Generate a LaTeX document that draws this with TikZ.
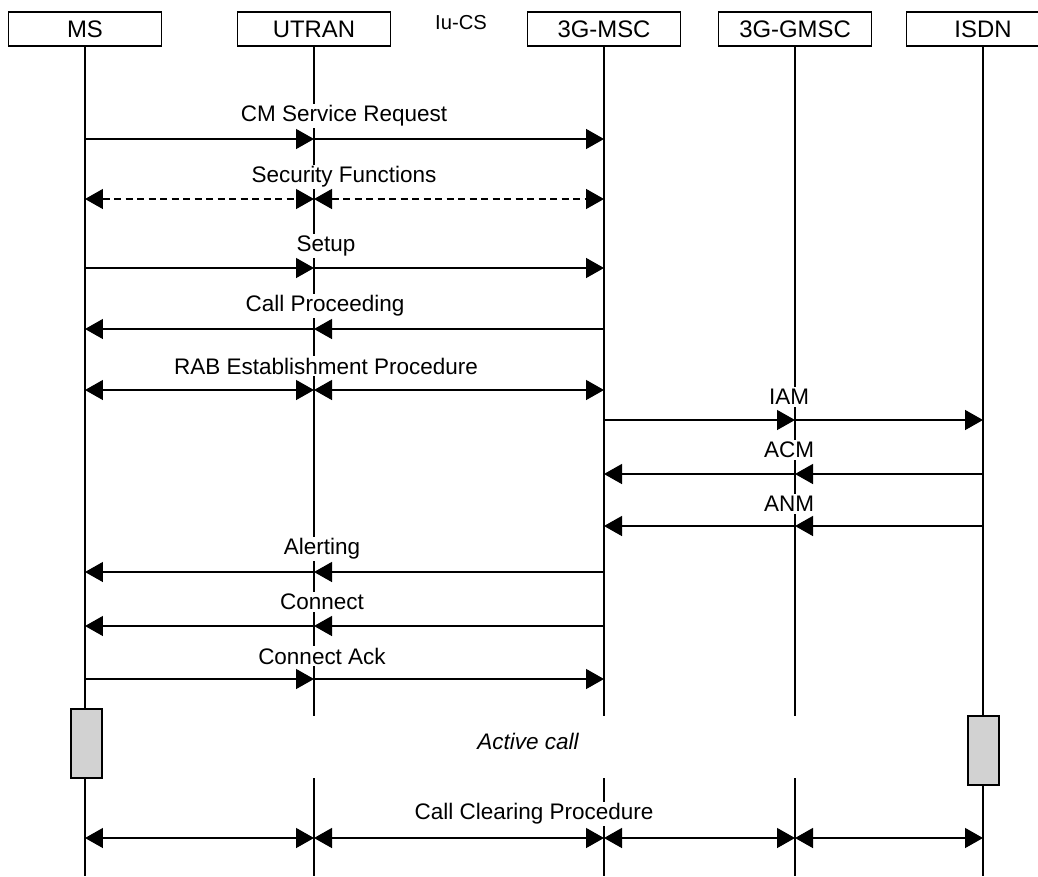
\documentclass[tikz,border=0pt]{standalone}
\usepackage{fontspec}
\setmainfont{Liberation Sans}
\usetikzlibrary{arrows.meta}

\begin{document}
\begin{tikzpicture}[x=0.02cm, y=-0.02cm, line width=0.8pt]
\tikzstyle{every node} = [font=\fontsize{12.8}{15}\selectfont]
\tikzstyle{actor} = [draw, fill=white, minimum width=3.06cm, minimum height=0.68cm, inner sep=0cm, font=\fontsize{13.6}{16}\selectfont]
\tikzstyle{lbl} = [fill=white, inner sep=0.04cm]
\tikzstyle{msg} = [-{Triangle[length=0.36cm, width=0.4cm]}]
\tikzstyle{twoway} = [{Triangle[length=0.36cm, width=0.4cm]}-{Triangle[length=0.36cm, width=0.4cm]}]
\tikzstyle{act} = [draw, fill=gray!35, minimum width=0.62cm, minimum height=1.38cm, inner sep=0cm]
\useasboundingbox (0,0) rectangle (1038,876);
\clip (0,0) rectangle (1038,876);

\node[actor] (ms) at (85,29) {MS};
\node[actor] (utran) at (314,29) {UTRAN};
\node[actor] (msc) at (604,29) {3G-MSC};
\node[actor] (gmsc) at (795,29) {3G-GMSC};
\node[actor] (isdn) at (983,29) {ISDN};
\node[font=\fontsize{11.5}{14}\selectfont] (iucs) at (461,23) {Iu-CS};

\coordinate (gaptop) at (0,716);
\coordinate (gapbot) at (0,778);
\coordinate (bot) at (0,876);

\draw (ms) -- (ms |- bot);
\draw (isdn) -- (isdn |- bot);
\foreach \lane in {utran,msc,gmsc}
	\draw (\lane) -- (\lane |- gaptop) (\lane |- gapbot) -- (\lane |- bot);

\node[act] (msact) at (86.5,743.5) {};
\node[act] (isdnact) at (983.5,750.5) {};

\foreach \row/\y in {cm/139, sec/199, setup/268, proc/329, rab/390, iam/420,
		acm/474, anm/526, alert/572, conn/626, ack/679, clear/838}
	\foreach \lane in {ms,utran,msc,gmsc,isdn}
		\coordinate (\lane-\row) at (\lane |- 0,\y);

\node[lbl] (cmlbl) at (344,116) {CM Service Request};
\node[lbl] (seclbl) at (344,177) {Security Functions};
\node[lbl] (setuplbl) at (326,246) {Setup};
\node[lbl] (proclbl) at (325,306) {Call Proceeding};
\node[lbl] (rablbl) at (326,366) {RAB Establishment Procedure};
\node[lbl] (iamlbl) at (789,397) {IAM};
\node[lbl] (acmlbl) at (789,450) {ACM};
\node[lbl] (anmlbl) at (789,504) {ANM};
\node[lbl] (alertlbl) at (322,549) {Alerting};
\node[lbl] (connlbl) at (322,602) {Connect};
\node[lbl] (acklbl) at (322,656) {Connect Ack};
\node[font=\fontsize{12.8}{15}\selectfont\itshape] (active) at (528,741) {Active call};
\node[lbl] (clearlbl) at (534,814) {Call Clearing Procedure};

\path (ms-cm) edge[msg] (utran-cm)
	(utran-cm) edge[msg] (msc-cm);
\path[dash pattern=on 0.14cm off 0.09cm] (ms-sec) edge[twoway] (utran-sec)
	(utran-sec) edge[twoway] (msc-sec);
\path (ms-setup) edge[msg] (utran-setup)
	(utran-setup) edge[msg] (msc-setup);
\path (msc-proc) edge[msg] (utran-proc)
	(utran-proc) edge[msg] (ms-proc);
\path (ms-rab) edge[twoway] (utran-rab)
	(utran-rab) edge[twoway] (msc-rab);
\path (msc-iam) edge[msg] (gmsc-iam)
	(gmsc-iam) edge[msg] (isdn-iam);
\path (isdn-acm) edge[msg] (gmsc-acm)
	(gmsc-acm) edge[msg] (msc-acm);
\path (isdn-anm) edge[msg] (gmsc-anm)
	(gmsc-anm) edge[msg] (msc-anm);
\path (msc-alert) edge[msg] (utran-alert)
	(utran-alert) edge[msg] (ms-alert);
\path (msc-conn) edge[msg] (utran-conn)
	(utran-conn) edge[msg] (ms-conn);
\path (ms-ack) edge[msg] (utran-ack)
	(utran-ack) edge[msg] (msc-ack);
\path (ms-clear) edge[twoway] (utran-clear)
	(utran-clear) edge[twoway] (msc-clear)
	(msc-clear) edge[twoway] (gmsc-clear)
	(gmsc-clear) edge[twoway] (isdn-clear);
\end{tikzpicture}
\end{document}
